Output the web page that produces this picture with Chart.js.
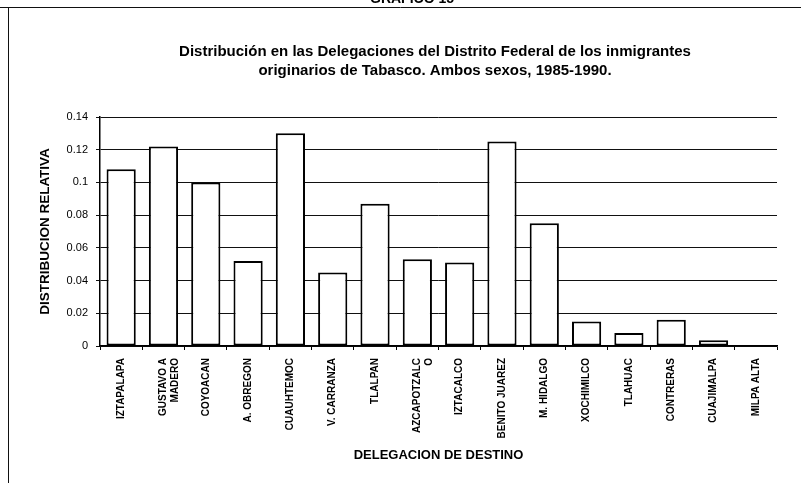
<!DOCTYPE html>
<html>
<head>
<meta charset="utf-8">
<script src="https://cdn.jsdelivr.net/npm/chart.js@4/dist/chart.umd.min.js"></script>
<style>
    html, body { margin: 0; padding: 0; background: #fff; }
    canvas { display: block; }
</style>
</head>
<body>
<canvas id="grafico" width="801" height="483"></canvas>
<script>
// Delegaciones (destino) y su distribución relativa
const delegaciones = [
    'IZTAPALAPA', ['GUSTAVO A', 'MADERO'], 'COYOACAN', 'A. OBREGON', 'CUAUHTEMOC',
    'V. CARRANZA', 'TLALPAN', ['AZCAPOTZALC', 'O'], 'IZTACALCO', 'BENITO JUAREZ',
    'M. HIDALGO', 'XOCHIMILCO', 'TLAHUAC', 'CONTRERAS', 'CUAJIMALPA', 'MILPA ALTA'
];
const distribucion = [
    0.108, 0.122, 0.100, 0.052, 0.130,
    0.045, 0.087, 0.053, 0.051, 0.125,
    0.075, 0.015, 0.008, 0.016, 0.0035, 0.0006
];
const yTicks = [0, 0.02, 0.04, 0.06, 0.08, 0.1, 0.12, 0.14];

const titulo = [
    'Distribución en las Delegaciones del Distrito Federal de los inmigrantes',
    'originarios de Tabasco. Ambos sexos, 1985-1990.'
];
const encabezado = 'GRAFICO 15';

const FONT = "'Liberation Sans', Arial, sans-serif";

// Marco de la hoja, encabezado cortado arriba y título de dos líneas
const marco = {
    id: 'marco',
    beforeDraw(chart) {
        const ctx = chart.ctx;
        ctx.save();
        ctx.fillStyle = '#fff';
        ctx.fillRect(0, 0, chart.width, chart.height);
        ctx.strokeStyle = '#111';
        ctx.lineWidth = 1;
        ctx.beginPath();
        ctx.moveTo(0, 7.5);
        ctx.lineTo(chart.width, 7.5);
        ctx.moveTo(8.5, 7);
        ctx.lineTo(8.5, chart.height);
        ctx.stroke();
        ctx.fillStyle = '#000';
        ctx.font = 'bold 14px ' + FONT;
        ctx.textAlign = 'center';
        ctx.textBaseline = 'alphabetic';
        ctx.fillText(encabezado, 412, 2.5);

        ctx.font = 'bold 15px ' + FONT;
        ctx.textBaseline = 'middle';
        titulo.forEach((linea, i) => ctx.fillText(linea, 435, 52 + i * 19));
        ctx.restore();
    }
};

new Chart(document.getElementById('grafico'), {
    type: 'bar',
    data: {
        labels: delegaciones,
        datasets: [{
            data: distribucion,
            backgroundColor: '#fff',
            borderColor: '#000',
            borderWidth: 2,
            borderSkipped: false,
            categoryPercentage: 1,
            barPercentage: 0.69
        }]
    },
    options: {
        responsive: false,
        animation: false,
        layout: { padding: { top: 117, right: 24, bottom: 0, left: 10 } },
        plugins: {
            legend: { display: false },
            tooltip: { enabled: false },
            title: { display: false }
        },
        scales: {
            x: {
                afterFit(scale) { scale.height = 137; },
                grid: {
                    display: true,
                    drawOnChartArea: false,
                    drawTicks: true,
                    tickLength: 4,
                    color: '#000',
                    offset: true
                },
                border: { display: true, color: '#000', width: 1.5 },
                ticks: {
                    autoSkip: false,
                    maxRotation: 90,
                    minRotation: 90,
                    padding: 8,
                    color: '#000',
                    font: { family: FONT, size: 10, weight: 'bold' }
                },
                title: {
                    display: true,
                    text: 'DELEGACION DE DESTINO',
                    color: '#000',
                    font: { family: FONT, size: 13, weight: 'bold' },
                    padding: { top: 0, bottom: 20 }
                }
            },
            y: {
                min: 0,
                max: 0.14,
                afterFit(scale) { scale.width = 90; },
                afterBuildTicks(scale) {
                    scale.ticks = yTicks.map(v => ({ value: v }));
                },
                grid: {
                    color: '#111',
                    lineWidth: 1,
                    tickLength: 4
                },
                border: { display: true, color: '#000', width: 1.5 },
                ticks: {
                    padding: 8,
                    color: '#000',
                    font: { family: FONT, size: 11 },
                    callback: v => String(Math.round(v * 100) / 100)
                },
                title: {
                    display: true,
                    text: 'DISTRIBUCION RELATIVA',
                    color: '#000',
                    font: { family: FONT, size: 13.5, weight: 'bold' },
                    padding: { top: 27, bottom: 0 }
                }
            }
        }
    },
    plugins: [marco]
});
</script>
</body>
</html>
